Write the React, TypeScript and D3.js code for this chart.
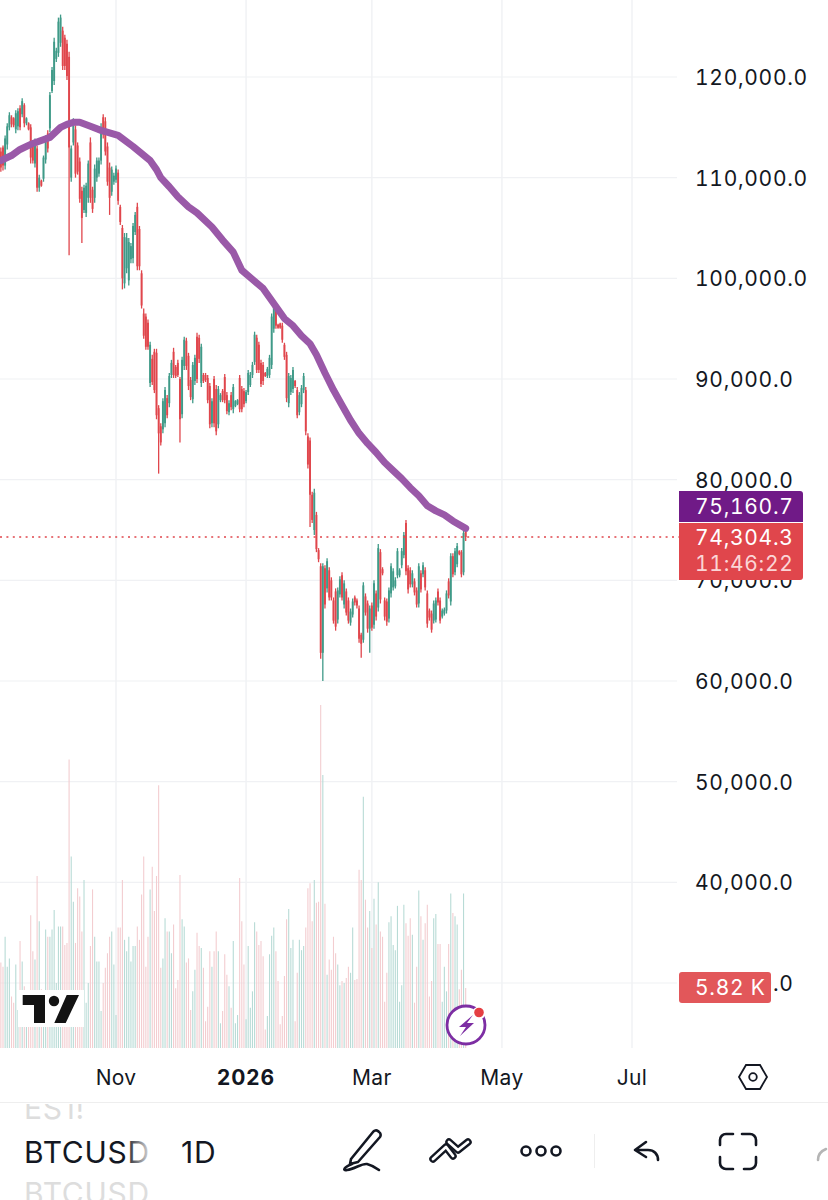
import * as d3 from 'd3'

const WIDTH = 828
const HEIGHT = 1200
const FONT = 'Inter, "Noto Sans", sans-serif'

const UP = '#3f9a88'
const DOWN = '#e0464c'
const UP_VOL = '#b8dbd6'
const DOWN_VOL = '#f3cdd0'
const GRID = '#f0f1f4'
const TEXT = '#131722'

// prices in thousands of USD, one bar per day starting 8 Sep 2025
const opens = [
  112.6, 113, 111.2, 113.3, 115, 116, 115.9, 114.8, 115.1, 116.9,
  116.3, 117.2, 115.4, 115.4, 115, 113.2, 111.4, 112.9, 109, 109.7,
  109.9, 111.8, 114.4, 114.9, 118.6, 119.6, 121.8, 122.4, 123.4, 124.6,
  123.9, 123.3, 122, 110, 113.5, 114.8, 113.2, 111.6, 108.7, 106.8,
  106.5, 108, 113.5, 108.8, 108, 110, 110.4, 111.7, 116, 115.6,
  113.1, 111, 108.6, 109.6, 109.8, 110.5, 107.1, 105, 99.5, 101,
  99.8, 101.9, 102, 104.6, 107.1, 104.9, 100.5, 96.5, 96.2, 95.6,
  89.6, 92, 92.7, 92.6, 87.1, 85.3, 85, 85.6, 88.1, 87.6,
  90.4, 92.7, 91.2, 91.6, 90, 86.5, 91.3, 93.8, 92.3, 89.9,
  88, 89.8, 94.2, 94.1, 89.6, 90.4, 90.4, 90.1, 89.3, 85.6,
  90, 89, 85.5, 87.9, 88.8, 90.2, 88.4, 86.7, 88.4, 87,
  87.3, 87.5, 90.1, 89, 88.8, 87.8, 88.7, 89.4, 90.4, 91.7,
  94.1, 93.4, 91.6, 91.4, 90.6, 90.3, 90.4, 91.4, 95, 97,
  95.4, 95.5, 95.3, 93.4, 92.4, 87.6, 88.7, 89, 89.8, 88.9,
  86.7, 87.5, 88.9, 88.9, 84.3, 83.9, 78.5, 75, 76.5, 73,
  71.4, 62.8, 71.2, 69.2, 71, 70, 68, 68.9, 66.1, 68.6,
  70.5, 67.6, 68.9, 68, 65.8, 66.6, 68.3, 68, 67.2, 64.6,
  64.1, 68.4, 67.7, 65.2, 67.5, 65.6, 68.7, 67.3, 72.8, 71.1,
  68, 67.9, 66.2, 68.7, 69.3, 69.4, 70.5, 70.5, 71.5, 72.5,
  75.7, 71.2, 71, 69.6, 69.9, 69, 67.7, 70.7, 70.6, 71,
  68.7, 67, 66.7, 66, 66.1, 68.9, 68, 66.4, 66.7, 67,
  69.9, 67.9, 72.4, 70.8, 71.6, 72.9, 72.8, 70.8, 74.8,
]

const highs = [
  113, 113.2, 114.2, 115.4, 116.5, 116.2, 116, 116.7, 116.9, 117.2,
  117.9, 117.4, 116, 115.5, 115.3, 113.5, 113.9, 113.2, 110.3, 109.8,
  112.2, 114.2, 114.7, 118.5, 121, 123.9, 122.9, 125.9, 126.2, 125,
  124.2, 123.7, 122.5, 113.2, 115.9, 115.2, 113.5, 112, 109.1, 109.3,
  109.5, 111.7, 114, 109.1, 111.3, 112, 112, 115.4, 116.3, 116,
  113.5, 111.5, 111.1, 110.5, 111.2, 110.8, 107.3, 105.3, 104.5, 104.5,
  104, 103.5, 105.5, 106.6, 107.5, 105.2, 100.8, 97, 96.5, 95.9,
  93.7, 92.4, 93, 93, 87.4, 85.6, 88.1, 89.2, 88.4, 90.6,
  91.9, 93.1, 91.4, 91.9, 90.2, 92.2, 94.2, 94.1, 92.6, 90.2,
  91.7, 92.4, 94.6, 94.4, 93.5, 90.6, 90.6, 90.4, 89.6, 88.1,
  90.3, 89.4, 89.3, 88.6, 89, 90.5, 88.7, 87.9, 88.7, 89.5,
  87.9, 88, 90.4, 89.3, 89.1, 88.9, 90.9, 90.7, 91.7, 94.7,
  94.4, 93.7, 91.9, 91.7, 90.7, 91.2, 92.4, 96.5, 97.8, 97.3,
  95.5, 95.6, 95.6, 93.6, 92.7, 90.6, 90.4, 91.2, 89.9, 89.2,
  88.7, 89.4, 90.6, 89.2, 84.6, 84.2, 78.8, 79.1, 76.8, 73.2,
  71.7, 71.7, 71.5, 72.2, 71.3, 70.3, 68.3, 69.2, 69.3, 70.4,
  70.8, 70, 69.2, 68.3, 67.2, 68.2, 68.5, 68.2, 67.5, 64.8,
  69.8, 68.7, 68, 67.5, 67.8, 70, 69, 73.6, 73.1, 71.3,
  68.3, 68.2, 69.3, 71.7, 71.2, 70.3, 73.2, 71.2, 73.2, 74.8,
  76, 71.5, 71.3, 71, 70.2, 69.3, 71.7, 71, 71.8, 71.3,
  69, 67.2, 67, 68, 68.3, 69.2, 68.3, 67.2, 67.3, 69,
  70.2, 72.7, 72.7, 73.2, 73.7, 73, 73, 75, 75,
]

const lows = [
  110.6, 110.7, 110.8, 112.8, 114.7, 115, 115, 114.4, 114.7, 114.7,
  116, 115, 115.2, 114.7, 111.4, 111.4, 111, 108.6, 108.6, 109.1,
  109.6, 111.4, 112.5, 114.5, 118.4, 119.2, 121.5, 122, 123, 120.7,
  120.7, 119.7, 102.3, 109.6, 113.2, 110, 110.3, 107.5, 103.5, 106.5,
  106.1, 107.5, 107.5, 106.5, 107.5, 109.6, 110.1, 111.3, 113.9, 112.2,
  109.2, 106.3, 108.2, 109.3, 109.5, 107.3, 105.3, 98.9, 99, 100.5,
  99.3, 101.5, 101.5, 104.3, 100.8, 100.8, 97, 94, 92.9, 92.9,
  89.2, 89.4, 88.6, 86, 80.6, 83.4, 84.6, 85.2, 86.1, 87.2,
  90.1, 90.1, 90.1, 90.2, 83.7, 86.1, 90.9, 90.9, 88.9, 87.9,
  87.6, 89.4, 89.6, 91.6, 89.2, 89.6, 89.7, 87.6, 85.1, 85.2,
  85.2, 84.4, 85.1, 87.7, 87.7, 87.6, 86.5, 86.4, 86.9, 86.6,
  87.2, 87.4, 86.7, 86.7, 87.2, 87.6, 88.4, 89.2, 90.1, 91.4,
  90.6, 90.6, 89.2, 89.4, 90.2, 90.1, 90.1, 91, 94.6, 95,
  95, 95, 93.6, 91.9, 87.7, 87.2, 88.4, 88.6, 89.1, 86.1,
  86.4, 87.2, 88.6, 84.4, 81.1, 75.3, 75.7, 74.5, 72.8, 71.8,
  62.2, 60, 67.2, 68.8, 68, 68, 65.7, 65, 65.7, 68.3,
  68, 67.2, 66.5, 65.7, 65.5, 66.3, 67.5, 67.2, 63.8, 62.3,
  63.8, 66.5, 64.8, 62.8, 65, 65.2, 66, 66.9, 67.7, 70.5,
  66, 65.5, 65.8, 68.3, 69, 69.2, 70.2, 70.3, 71.2, 72.2,
  70.5, 68.7, 69.3, 69.3, 68.5, 67.3, 67.3, 68.8, 70.3, 69,
  65.3, 66, 64.8, 65.7, 65.8, 67.5, 65.7, 66.2, 66.5, 66.7,
  68.2, 67.5, 70.3, 70.5, 71.3, 72.5, 70.3, 70.5, 73.9,
]

const closes = [
  111, 111.2, 113.9, 115.1, 116.2, 115.3, 115.2, 116.4, 116.6, 115,
  117.6, 115.4, 115.9, 114.8, 112, 111.7, 113.5, 109, 110, 109.2,
  112, 113.9, 112.9, 118.2, 120.7, 123.5, 122.6, 125.5, 125.9, 121.1,
  121.1, 120.1, 113, 112.9, 115.6, 110.4, 110.6, 107.9, 106, 109,
  109.2, 111.4, 108, 106.9, 110.9, 111.7, 111.7, 115, 114.3, 112.6,
  109.6, 108, 110.8, 110.2, 110.9, 107.7, 105.6, 100, 104.1, 104,
  103.6, 103.2, 105.2, 106.3, 101.2, 101.2, 97.3, 94.3, 93.2, 93.2,
  93.4, 89.7, 88.9, 86.4, 84.6, 83.7, 87.8, 88.9, 86.4, 90.3,
  91.6, 90.4, 90.3, 90.4, 86, 91.9, 93.9, 91.3, 89.3, 88.2,
  91.4, 92.1, 90, 92, 93.2, 89.8, 89.9, 87.9, 85.5, 87.8,
  85.6, 84.8, 89, 88.4, 87.9, 87.9, 86.8, 87.6, 87.2, 89.2,
  87.8, 87.9, 87, 87, 87.5, 88.7, 90.6, 90.4, 91.4, 94.4,
  90.9, 90.9, 89.5, 89.8, 90.3, 91, 92.1, 96.2, 97.5, 95.3,
  95.1, 95.1, 93.9, 92.2, 88.1, 90.3, 90.1, 90.9, 89.3, 86.4,
  88.4, 89.1, 90.3, 84.8, 81.5, 78.5, 76, 78.7, 73.1, 72.1,
  62.8, 71.4, 67.6, 71.9, 68.3, 68.3, 66, 65.4, 69, 70.1,
  68.3, 69.7, 66.8, 66, 66.9, 67.9, 67.8, 67.5, 64.2, 63.7,
  69.5, 66.8, 65.2, 67.2, 65.3, 69.7, 66.4, 73.2, 68.1, 70.7,
  66.4, 65.9, 69, 71.4, 70.9, 70, 72.9, 71, 72.9, 74.5,
  70.9, 69.1, 69.6, 70.7, 68.8, 67.6, 71.4, 69.1, 71.5, 69.3,
  65.7, 66.3, 65.1, 67.7, 68, 67.8, 66, 67, 67.1, 68.7,
  68.5, 72.4, 70.6, 72.9, 73.4, 72.6, 70.6, 74.7, 74.3,
]

// daily volume, thousands of BTC
const volumes = [
  8.3, 7.9, 10.8, 7.9, 8.7, 5, 4.4, 8.1, 3.7, 10.4,
  8.4, 6, 2.3, 2.8, 12.9, 9.4, 8.6, 16.7, 12.3, 5.7,
  5.3, 11.5, 10.8, 10.8, 11.5, 13.4, 6.3, 11.8, 11.8, 11.8,
  10, 10.2, 28, 18.6, 14.2, 10.2, 15.5, 14.7, 11.3, 16.3,
  4.4, 6.3, 9.9, 15.4, 10.8, 8.4, 8.4, 3.6, 6.3, 7.8,
  9.2, 10.8, 11.3, 8.1, 3.2, 11.7, 11.7, 16.3, 10.5, 9.4,
  10.8, 8.4, 9.9, 9.9, 11.8, 10.5, 14.9, 18.6, 7.9, 10.8,
  15.4, 17.6, 13.3, 16.7, 25.5, 7.8, 8.7, 12.6, 11.3, 11.3,
  9.2, 12, 5.8, 6.6, 16.8, 12.5, 11.8, 8.3, 8.7, 3.7,
  5.5, 7.6, 11.2, 9.9, 9.7, 7.8, 2.6, 4, 9.4, 7.9,
  9.4, 11.3, 9.4, 2.4, 3.6, 9.1, 7.1, 6, 3.9, 10.4,
  2.4, 3.2, 16.5, 12.3, 8.1, 2.8, 9.9, 3.9, 5.5, 12.2,
  11.3, 10, 10.4, 8.9, 1.8, 3.1, 9.1, 10.9, 11.7, 9.4,
  6.5, 2.3, 3.1, 7, 12.5, 13.5, 9.7, 10.5, 2.6, 7.3,
  10.5, 9.5, 9.9, 11.7, 15.5, 16, 12.3, 16.3, 14.1, 14.2,
  33.3, 26.5, 14, 7.1, 8.6, 7.6, 10.8, 9.2, 8.1, 6.1,
  6.5, 6.3, 6.8, 7.9, 7.3, 11.7, 6.6, 6.7, 17.3, 16.3,
  24.4, 14.4, 11.7, 13.3, 9.7, 14.5, 12, 16.1, 11.3, 10.8,
  4.5, 7.3, 12.2, 12.8, 10, 9.5, 13.8, 4.5, 6.1, 13.9,
  12.1, 10.9, 12.6, 11, 4.4, 7.9, 15.3, 12.8, 10.5, 12.1,
  13.9, 5, 6.5, 12.6, 13, 10.1, 10.1, 4.5, 7.9, 5.5,
  10.1, 15, 13.1, 12.8, 12, 5.7, 7.6, 15, 5.82,
]

// moving average read at these bar numbers
const maBars = [
  0, 5, 9, 15, 23, 28, 31, 34, 37, 42, 47, 55, 62, 70, 73, 75, 79, 83, 88, 92,
  99, 104, 109, 113, 118, 123, 128, 133, 137, 141, 145, 148, 152, 156, 160, 164,
  168, 172, 176, 180, 184, 188, 192, 196, 200, 204, 208, 212, 218,
]
const maValues = [
  111.7, 112.2, 112.8, 113.4, 114, 115, 115.3, 115.5, 115.5, 115.1, 114.7, 114.2,
  113.1, 111.7, 110.8, 110, 109.1, 108.1, 107.1, 106.5, 105.1, 103.8, 102.6, 100.8,
  99.9, 99, 97.5, 96, 95.3, 94.3, 93.5, 92.4, 90.6, 88.9, 87.4, 85.9, 84.6, 83.6,
  82.7, 81.7, 80.9, 80.1, 79.2, 78.4, 77.4, 76.9, 76.5, 75.9, 75.16,
]

const priceTicks = [120, 110, 100, 90, 80, 70, 60, 50, 40, 30]
const timeTicks = [
  { date: new Date(Date.UTC(2025, 10, 1)), label: 'Nov', bold: false },
  { date: new Date(Date.UTC(2026, 0, 1)), label: '2026', bold: true },
  { date: new Date(Date.UTC(2026, 2, 1)), label: 'Mar', bold: false },
  { date: new Date(Date.UTC(2026, 4, 1)), label: 'May', bold: false },
  { date: new Date(Date.UTC(2026, 6, 1)), label: 'Jul', bold: false },
]
const firstDay = new Date(Date.UTC(2025, 8, 8))

const x = d3
  .scaleUtc()
  .domain([new Date(Date.UTC(2025, 10, 1)), new Date(Date.UTC(2026, 6, 1))])
  .range([116, 632])
const y = d3.scaleLinear().domain([60, 120]).range([681, 77])
const yVol = d3.scaleLinear().domain([0, 33.3]).range([1048, 705])
const barX = (i: number) => x(d3.utcDay.offset(firstDay, i))

const maLine = d3
  .line<number>()
  .x((_, i) => barX(maBars[i]))
  .y((d) => y(d))

const fmt = d3.format(',.1f')
const tickLabel = (v: number) => fmt(v * 1000)

const lastClose = closes[closes.length - 1]

const axisStyle = {
  fontFamily: FONT,
  fontSize: 21,
  letterSpacing: 0.7,
  fill: TEXT,
  style: { fontFeatureSettings: '"tnum"' },
}

export default function App() {
  return (
    <svg
      width={WIDTH}
      height={HEIGHT}
      style={{ position: 'absolute', left: 0, top: 0, display: 'block', background: '#fff' }}
    >
      <defs>
        <linearGradient id="fade" x1="24" x2="150" y1="0" y2="0" gradientUnits="userSpaceOnUse">
          <stop offset="0.8" stopColor={TEXT} />
          <stop offset="1" stopColor={TEXT} stopOpacity={0.15} />
        </linearGradient>
        <clipPath id="symbols">
          <rect x={0} y={1104} width={170} height={96} />
        </clipPath>
      </defs>

      {/* grid */}
      {priceTicks.map((t) => (
        <line key={t} x1={0} x2={677} y1={y(t)} y2={y(t)} stroke={GRID} strokeWidth={1.2} />
      ))}
      {timeTicks.map((t) => (
        <line key={t.label} x1={x(t.date)} x2={x(t.date)} y1={0} y2={1048} stroke={GRID} strokeWidth={1.4} />
      ))}

      {/* volume */}
      {volumes.map((v, i) => (
        <line
          key={i}
          x1={barX(i)}
          x2={barX(i)}
          y1={yVol(0)}
          y2={yVol(v)}
          stroke={closes[i] >= opens[i] ? UP_VOL : DOWN_VOL}
          strokeWidth={1.1}
        />
      ))}

      {/* candles */}
      {opens.map((o, i) => {
        const c = closes[i]
        const color = c >= o ? UP : DOWN
        return (
          <g key={i} stroke={color}>
            <line x1={barX(i)} x2={barX(i)} y1={y(highs[i])} y2={y(lows[i])} strokeWidth={1.3} />
            <line x1={barX(i)} x2={barX(i)} y1={y(o)} y2={y(c)} strokeWidth={1.9} />
          </g>
        )
      })}

      {/* last price */}
      <line
        x1={0}
        x2={679}
        y1={y(lastClose)}
        y2={y(lastClose)}
        stroke={DOWN}
        strokeWidth={1.6}
        strokeDasharray="2 4.4"
      />

      <path
        d={maLine(maValues) ?? ''}
        fill="none"
        stroke="#9a59a8"
        strokeWidth={7}
        strokeLinejoin="round"
        strokeLinecap="round"
      />

      {/* price axis */}
      {priceTicks.map((t) => (
        <text key={t} x={695} y={y(t) + 8} {...axisStyle}>
          {tickLabel(t)}
        </text>
      ))}

      <path d="M679 491H800a3 3 0 0 1 3 3V522H679Z" fill="#701a87" />
      <path d="M679 523H803V577a3 3 0 0 1 -3 3H679Z" fill={DOWN} />
      <text x={695} y={514} {...axisStyle} fill="#fff">
        {fmt(maValues[maValues.length - 1] * 1000 + 0.7)}
      </text>
      <text x={695} y={545} {...axisStyle} fill="#fff">
        74,304.3
      </text>
      <text x={695} y={571} {...axisStyle} fill="#fbd5d6">
        11:46:22
      </text>

      <rect x={679} y={972} width={92} height={31} rx={3} fill="#e2575a" />
      <text x={695} y={995} {...axisStyle} letterSpacing={0.7} fill="#fff">
        5.82 K
      </text>

      {/* TV logo */}
      <rect x={18} y={990} width={66} height={37} fill="#fff" />
      <path
        d="M22.7 995H45V1023H34V1005H22.7ZM66.7 995H79L65.7 1023H54.3Z"
        fill="#131313"
      />
      <circle cx={54} cy={1001} r={5.2} fill="#131313" />

      {/* bolt badge */}
      <circle cx={466} cy={1025} r={19} fill="#fff" stroke="#7d2ea3" strokeWidth={2.8} />
      <path d="M473 1015L459 1027H466L460 1036L474 1023H467Z" fill="#7d2ea3" />
      <circle cx={479} cy={1013} r={6.5} fill="#fff" />
      <circle cx={479} cy={1012.5} r={4.8} fill="#e53f43" />

      {/* time axis */}
      {timeTicks.map((t) => (
        <text
          key={t.label}
          x={x(t.date)}
          y={1085}
          textAnchor="middle"
          fontFamily={FONT}
          fontSize={21}
          fontWeight={t.bold ? 700 : 400}
          letterSpacing={t.bold ? 1 : 0.3}
          fill={TEXT}
        >
          {t.label}
        </text>
      ))}
      <path d="M739 1077L746 1065H760L767 1077L760 1089H746Z" fill="none" stroke={TEXT} strokeWidth={1.8} />
      <circle cx={753} cy={1077} r={3.8} fill="none" stroke={TEXT} strokeWidth={1.8} />

      <line x1={0} x2={WIDTH} y1={1102.5} y2={1102.5} stroke="#eeeeee" />

      {/* toolbar */}
      <g clipPath="url(#symbols)" fontFamily={FONT} fontSize={30} letterSpacing={0.7}>
        <text x={24} y={1119} fill="#dddddd">ES1!</text>
        <text x={24} y={1204} fill="#dddddd">BTCUSD</text>
        <text x={24} y={1163} fill="url(#fade)">BTCUSD</text>
      </g>
      <text x={181} y={1163} fontFamily={FONT} fontSize={30} letterSpacing={0.7} fill={TEXT}>1D</text>

      <g fill="none" stroke={TEXT} strokeWidth={2.6} strokeLinecap="round" strokeLinejoin="round">
        {/* pen */}
        <path d="M351 1159L373 1132a3.5 3.5 0 0 1 5 -1l1 1a3.5 3.5 0 0 1 1 5L358 1162L350 1164Z" />
        <path d="M352 1164C344 1167 342 1171 347 1170C355 1169 362 1163 367 1164C371 1165 375 1167 379 1170" />
        {/* undo */}
        <path d="M646 1142L635 1150L646 1157M636 1150H648C654 1150 658 1154 658 1160" />
        {/* fullscreen */}
        <path d="M720 1145V1140a6 6 0 0 1 6 -6H733M742 1134H750a6 6 0 0 1 6 6V1145M756 1157V1163a6 6 0 0 1 -6 6H744M733 1169H726a6 6 0 0 1 -6 -6V1157" />
      </g>
      {/* alerts */}
      <g fill="none" strokeLinecap="round" strokeLinejoin="round">
        <path d="M433 1159L446 1147L453 1156" stroke={TEXT} strokeWidth={7.5} />
        <path d="M433 1159L446 1147L453 1156" stroke="#fff" strokeWidth={2.8} />
        <path d="M449 1142L458 1150L468 1142" stroke={TEXT} strokeWidth={7.5} />
        <path d="M449 1142L458 1150L468 1142" stroke="#fff" strokeWidth={2.8} />
      </g>
      <circle cx={526} cy={1151} r={4.5} fill="none" stroke={TEXT} strokeWidth={2.6} />
      <circle cx={541} cy={1151} r={4.5} fill="none" stroke={TEXT} strokeWidth={2.6} />
      <circle cx={556} cy={1151} r={4.5} fill="none" stroke={TEXT} strokeWidth={2.6} />
      <line x1={594.5} x2={594.5} y1={1134} y2={1168} stroke="#eeeeee" />
      <path d="M818 1160C818 1154 821 1151 826 1149" fill="none" stroke="#b5b5b5" strokeWidth={2.6} strokeLinecap="round" />
    </svg>
  )
}
